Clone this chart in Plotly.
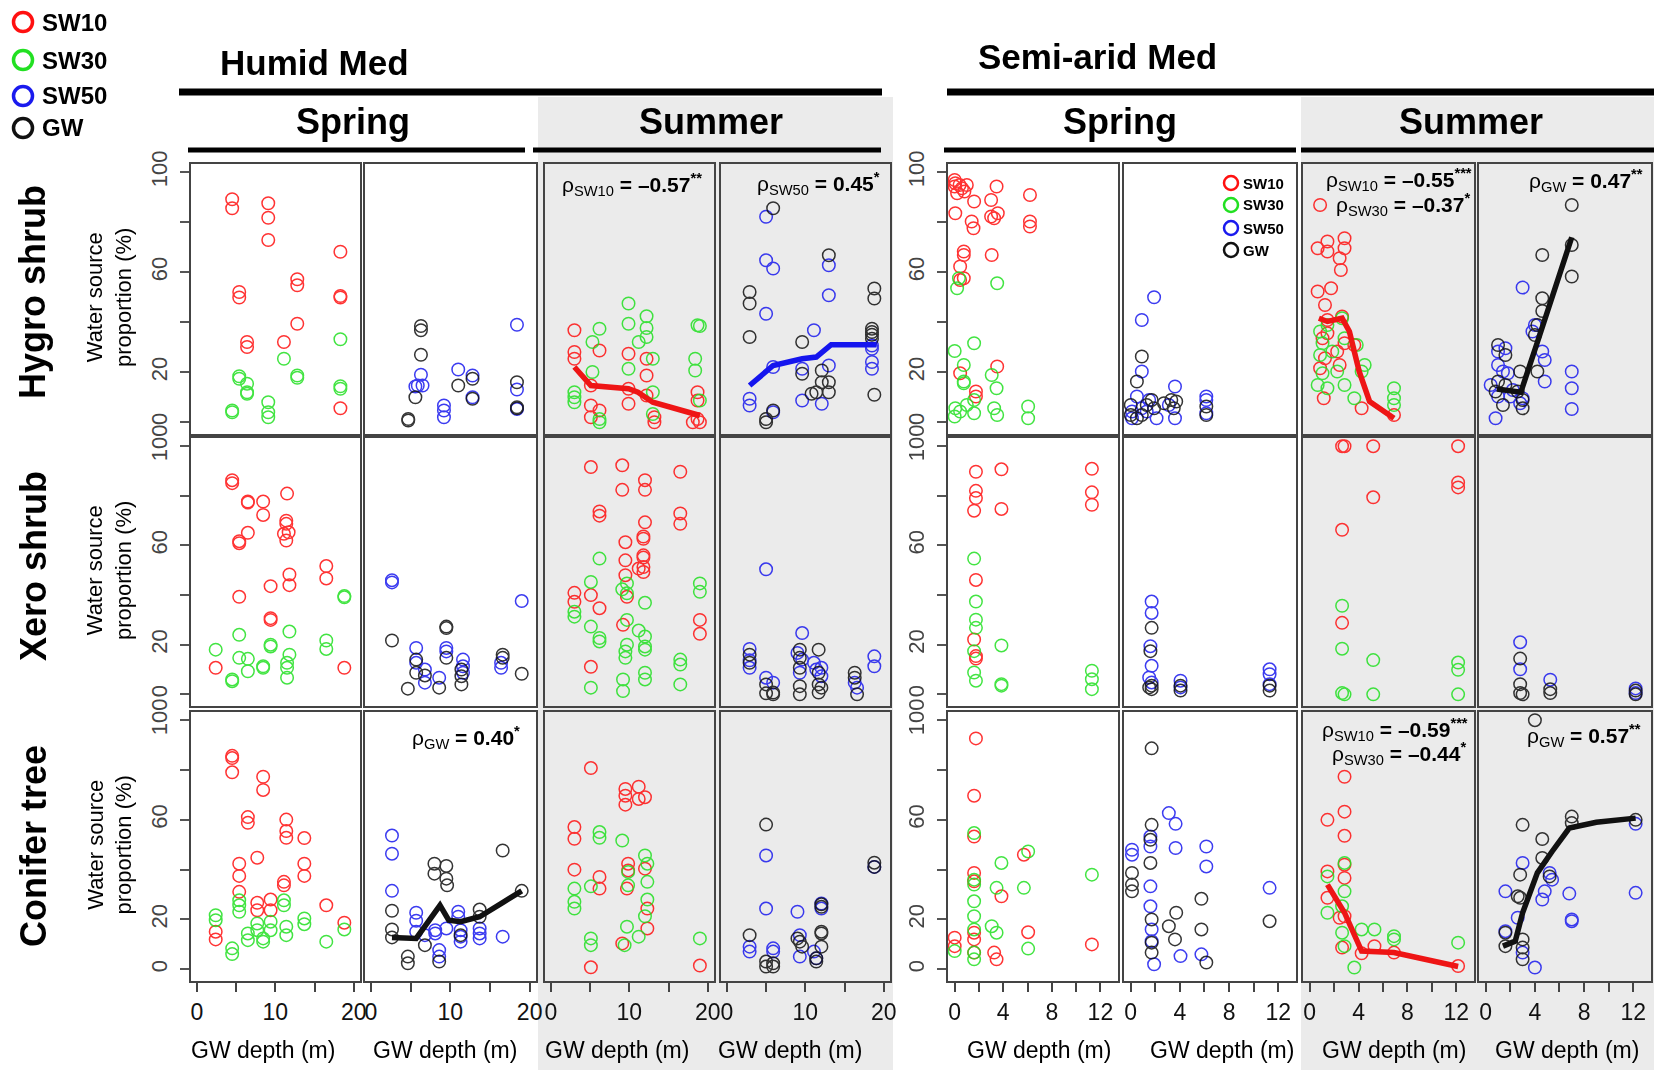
import plotly.graph_objects as go

W, H = 1654, 1070
FONT = "Liberation Sans, Arial, Helvetica, sans-serif"

# ---------------- data (GW depth m, water source proportion %) ----------------
# Row 1: Hygro shrub
H1_hyg_sw10 = [(4.5,89.2),(4.5,85.6),(9.1,87.6),(9.1,81.8),(9.1,72.9),(5.4,52.1),(5.4,49.9),(6.4,32.1),(6.4,30.1),(11.1,32.1),(12.8,57.2),(12.8,54.8),(12.8,39.4),(18.3,68.2),(18.3,50.5),(18.3,49.9),(18.3,5.6)]
H1_hyg_sw30 = [(5.4,18.4),(5.4,17.4),(6.4,15.4),(6.4,12.0),(6.4,11.4),(4.5,4.7),(4.5,4.0),(9.1,8.0),(9.1,4.0),(9.1,2.0),(11.1,25.4),(12.8,18.7),(12.8,17.8),(18.3,33.2),(18.3,14.4),(18.3,13.4)]
H2_hyg_sw50 = [(6.3,19.0),(5.9,14.7),(5.6,14.3),(6.5,14.7),(9.2,6.7),(9.2,4.7),(9.2,2.0),(11.0,21.1),(12.8,18.7),(12.8,10.0),(18.4,39.0),(18.4,13.1),(18.4,5.3)]
H2_hyg_gw = [(6.3,38.5),(6.3,36.8),(6.3,27.0),(5.6,10.0),(4.7,1.3),(4.7,0.7),(11.0,14.7),(12.8,17.4),(12.8,9.4),(18.4,16.0),(18.4,5.6),(18.4,6.0)]
H3_hyg_sw10 = [(3.0,36.8),(3.0,28.1),(3.0,25.4),(6.2,28.7),(5.1,14.7),(5.1,6.7),(5.1,2.0),(6.2,4.7),(9.9,27.4),(9.9,13.4),(9.9,7.4),(12.2,25.4),(12.2,18.7),(12.2,10.7),(13.2,2.0),(13.2,0.0),(18.7,12.0),(18.7,8.7),(18.7,1.3),(19.0,0.0),(18.1,0.0)]
H3_hyg_sw30 = [(6.2,37.4),(5.3,32.1),(3.0,12.0),(3.0,10.0),(3.0,8.0),(5.3,20.1),(6.2,1.3),(6.2,0.0),(9.9,47.5),(9.9,39.4),(9.9,21.4),(11.2,32.1),(12.2,42.4),(12.2,37.7),(12.2,34.1),(13.0,25.4),(13.0,12.0),(13.0,3.3),(18.7,38.8),(19.0,38.5),(18.4,25.4),(18.4,20.7),(19.0,8.7)]
H3_hyg_fit_x = [3.0, 5.1, 9.9, 11.1, 13.0, 19.0]
H3_hyg_fit_y = [22.1, 14.7, 13.4, 12.0, 8.0, 2.7]
H4_hyg_sw50 = [(5.0,82.2),(5.0,64.8),(5.9,61.5),(13.0,62.8),(13.0,50.8),(5.0,43.4),(11.1,36.8),(5.9,22.1),(9.6,21.4),(9.6,8.7),(2.9,9.4),(2.9,6.7),(5.9,4.0),(13.0,22.7),(12.1,7.4),(18.5,30.7),(18.5,29.4),(18.5,24.1),(18.5,21.4)]
H4_hyg_gw = [(5.9,85.6),(2.9,52.1),(2.9,47.5),(2.9,34.1),(9.6,32.1),(13.0,66.8),(18.8,53.5),(18.8,49.5),(18.5,37.4),(18.5,36.1),(18.5,35.0),(18.5,33.4),(18.8,11.0),(5.0,1.3),(5.0,0.0),(5.9,4.7),(9.6,19.4),(12.1,20.7),(12.1,16.0),(13.0,16.0),(13.0,12.0),(11.4,12.0),(10.8,11.4)]
H4_hyg_fit_x = [2.9, 5.9, 9.6, 11.4, 13.3, 19.1]
H4_hyg_fit_y = [14.7, 22.7, 25.4, 26.1, 31.0, 31.0]

S1_hyg_sw10 = [(0.0,96.9),(0.05,95.6),(0.0,94.3),(0.4,94.9),(0.6,93.6),(0.8,92.3),(1.0,94.9),(1.6,88.3),(0.2,91.6),(0.05,83.6),(1.4,80.3),(1.55,77.6),(3.0,88.9),(3.0,82.3),(3.45,94.3),(3.55,83.6),(3.25,81.6),(6.2,90.9),(6.2,80.3),(6.2,78.3),(0.75,68.3),(0.75,66.9),(0.45,62.3),(0.75,57.6),(0.45,56.9),(3.05,66.9),(3.5,22.3),(0.45,19.6),(1.75,12.3),(1.75,10.3)]
S1_hyg_sw30 = [(0.0,28.5),(0.35,57.6),(0.2,53.6),(1.6,31.6),(0.75,22.9),(0.75,16.3),(0.75,15.6),(0.45,4.3),(0.05,5.6),(0.0,2.3),(1.0,6.9),(1.6,3.6),(1.6,8.9),(3.05,18.9),(3.45,13.6),(3.25,5.6),(3.5,2.9),(6.05,6.3),(6.05,1.6),(3.5,55.6)]
S2_hyg_sw50 = [(1.9,50.0),(0.9,40.9),(0.9,20.3),(0.5,10.3),(0.1,4.3),(1.3,4.3),(2.1,1.6),(3.6,14.3),(3.6,1.6),(3.1,6.9),(6.15,10.3),(6.15,8.9),(6.15,3.6),(0.1,1.6),(0.9,5.6),(1.5,8.9)]
S2_hyg_gw = [(0.9,26.3),(0.5,16.3),(0.0,6.9),(0.0,2.9),(0.5,1.6),(0.9,2.9),(1.7,8.9),(1.9,5.6),(2.7,7.6),(3.3,8.9),(3.5,5.6),(3.7,8.3),(6.15,6.3),(6.15,2.9),(1.3,6.9)]
S3_hyg_sw10 = [(0.85,86.9),(0.65,69.6),(1.45,72.3),(1.45,68.3),(2.85,73.6),(2.85,69.6),(2.45,65.6),(2.55,60.9),(0.65,52.3),(1.75,53.6),(1.25,46.9),(1.45,40.9),(2.65,42.3),(1.05,33.6),(1.45,35.6),(2.85,31.6),(1.25,25.6),(2.25,28.3),(0.85,21.6),(2.45,22.9),(3.65,30.9),(1.15,9.6),(4.25,5.6),(6.9,2.9)]
S3_hyg_sw30 = [(0.85,36.3),(1.05,31.6),(1.45,38.9),(2.65,41.6),(1.85,28.3),(0.85,26.9),(1.05,19.6),(0.65,14.9),(1.45,13.6),(2.25,20.3),(2.85,14.9),(3.85,30.9),(4.25,20.3),(3.65,9.6),(6.9,13.6),(6.9,9.6),(6.9,6.9),(4.5,22.9),(2.85,33.6)]
S3_hyg_fit_x = [0.75, 1.45, 2.65, 3.25, 4.05, 4.9, 6.9]
S3_hyg_fit_y = [41.6, 40.3, 41.6, 36.3, 20.3, 8.3, 1.6]
S4_hyg_sw50 = [(3.0,53.9),(1.0,28.3),(1.6,29.6),(4.0,38.9),(3.8,36.3),(4.6,28.3),(4.8,24.9),(1.0,22.9),(1.4,20.3),(1.8,19.6),(4.8,16.3),(0.8,1.6),(1.0,10.3),(2.0,10.3),(3.0,9.6),(7.0,20.3),(7.0,13.6),(7.0,5.3),(0.4,14.9),(2.2,12.9),(2.8,7.6)]
S4_hyg_gw = [(7.0,86.9),(7.0,70.9),(7.0,58.3),(4.6,66.9),(4.6,49.6),(4.6,44.5),(4.2,38.9),(4.0,34.9),(4.2,20.3),(2.8,20.3),(1.0,30.9),(1.6,26.9),(1.0,16.3),(1.6,14.9),(2.6,12.3),(3.0,8.9),(1.4,6.9),(0.8,12.3),(3.0,5.6)]
S4_hyg_fit_x = [0.9, 2.85, 4.2, 5.6, 7.0]
S4_hyg_fit_y = [13.3, 12.0, 32.0, 52.7, 74.0]

# Row 2: Xero shrub
H1_xer_sw10 = [(4.5,86.3),(4.5,85.1),(6.5,77.7),(6.5,77.3),(8.45,77.7),(8.45,72.3),(11.5,80.9),(11.4,70.0),(11.4,68.7),(11.7,65.3),(11.1,64.7),(11.4,62.0),(6.5,65.1),(5.4,61.7),(5.4,60.9),(5.4,39.3),(9.4,43.6),(11.8,48.3),(11.8,44.0),(16.5,51.7),(16.5,46.7),(9.4,30.7),(9.4,30.0),(2.4,10.7),(18.8,10.7)]
H1_xer_sw30 = [(2.4,18.0),(4.5,6.0),(4.5,5.3),(5.4,24.0),(5.4,14.7),(6.5,14.3),(6.5,9.3),(8.45,11.3),(8.45,10.7),(9.4,20.0),(9.4,19.3),(11.5,12.7),(11.5,10.7),(11.5,6.7),(11.8,25.3),(11.8,16.0),(16.5,21.7),(16.5,18.3),(18.8,39.6),(18.8,39.1)]
H2_xer_sw50 = [(2.65,46.0),(2.65,45.1),(5.7,18.7),(9.5,18.7),(9.5,17.3),(5.7,12.7),(6.8,10.0),(6.8,4.7),(8.6,6.7),(11.6,14.0),(11.6,11.3),(16.4,12.7),(16.4,10.7),(19.0,37.6),(11.6,8.7)]
H2_xer_gw = [(2.65,21.7),(4.65,2.3),(5.7,14.0),(5.7,8.7),(6.8,7.6),(8.6,2.7),(9.5,27.3),(9.5,26.7),(9.5,14.7),(11.4,10.0),(11.4,7.3),(11.4,4.0),(16.6,16.0),(16.6,14.7),(19.0,8.3)]
H3_xer_sw10 = [(5.1,91.6),(9.1,92.3),(9.1,82.4),(12.0,86.3),(12.0,82.4),(16.5,89.7),(6.2,73.7),(6.2,72.0),(16.5,72.9),(16.5,68.7),(12.0,69.3),(9.5,61.3),(11.8,63.6),(11.8,62.7),(11.8,56.0),(11.8,55.1),(11.8,51.3),(11.8,49.3),(11.2,50.7),(9.5,54.0),(9.5,48.0),(9.7,39.3),(3.0,40.9),(3.0,37.3),(5.1,40.0),(6.2,34.7),(9.2,28.0),(5.1,11.1),(19.0,30.0),(19.0,24.4)]
H3_xer_sw30 = [(6.2,54.7),(5.1,45.3),(3.0,33.3),(3.0,31.3),(5.1,27.3),(6.2,22.7),(6.2,21.3),(9.1,42.3),(9.7,44.7),(9.7,40.7),(9.7,30.0),(11.2,25.7),(12.0,36.9),(12.0,23.3),(12.0,19.3),(12.0,18.0),(9.7,20.0),(9.5,17.3),(9.5,14.7),(9.2,6.0),(9.2,1.3),(12.0,8.7),(12.0,6.0),(5.1,2.7),(16.5,14.0),(16.5,12.0),(16.5,4.0),(19.0,44.7),(19.0,41.3)]
H4_xer_sw50 = [(5.0,50.4),(2.9,18.3),(2.9,13.7),(2.9,10.7),(5.0,6.7),(5.9,4.7),(9.6,24.7),(9.0,16.7),(9.3,8.7),(9.6,14.0),(11.1,12.7),(11.4,10.0),(12.05,10.7),(12.05,7.3),(16.3,4.7),(16.6,2.7),(18.8,15.3),(18.8,11.3)]
H4_xer_gw = [(2.9,16.0),(2.9,12.7),(5.0,4.0),(5.0,0.4),(5.9,0.7),(5.9,0.0),(9.3,18.0),(9.3,14.7),(9.3,10.7),(9.3,3.3),(9.3,0.0),(11.7,18.0),(11.7,8.7),(11.7,4.0),(11.7,0.7),(12.05,2.7),(16.3,8.7),(16.3,6.7),(16.6,0.0)]

S1_xer_sw10 = [(1.75,89.7),(1.75,82.0),(1.75,79.1),(1.6,74.0),(3.85,90.7),(3.85,74.7),(11.3,90.9),(11.3,81.4),(11.3,76.4),(1.75,46.1),(1.6,22.1),(1.75,15.4),(1.75,14.4)]
S1_xer_sw30 = [(1.6,54.7),(1.75,37.4),(1.75,30.1),(1.75,26.8),(1.6,17.4),(1.6,8.8),(1.75,5.5),(3.85,19.7),(3.85,4.1),(3.85,3.5),(11.3,9.5),(11.3,6.1),(11.3,2.1)]
S2_xer_sw50 = [(1.7,37.4),(1.7,32.8),(1.6,19.4),(1.7,11.5),(1.5,6.8),(1.7,4.8),(4.05,5.5),(4.05,2.8),(11.3,10.1),(11.3,8.1),(11.3,4.1)]
S2_xer_gw = [(1.7,26.8),(1.6,17.4),(1.7,3.5),(1.7,2.1),(1.5,2.8),(4.05,3.5),(4.05,1.5),(11.3,3.5),(11.3,1.5)]
S3_xer_sw10 = [(2.65,100.0),(2.85,100.0),(5.2,100.0),(12.15,100.0),(12.15,85.4),(12.15,83.4),(5.2,79.4),(2.65,66.3),(2.65,28.8)]
S3_xer_sw30 = [(2.65,35.7),(2.65,18.4),(5.2,13.8),(12.15,12.8),(12.15,9.9),(2.65,0.5),(2.85,0.0),(5.2,0.0),(12.15,0.0)]
S4_xer_sw50 = [(2.8,21.0),(2.8,10.1),(5.25,5.9),(12.2,2.4),(12.2,0.5)]
S4_xer_gw = [(2.8,14.4),(2.8,4.1),(2.8,0.5),(3.0,0.0),(5.25,2.1),(5.25,0.5),(12.2,1.5),(12.2,0.0)]

# Row 3: Conifer tree
H1_con_sw10 = [(4.5,85.7),(4.5,84.8),(4.5,79.1),(8.45,77.3),(8.45,72.0),(6.5,61.1),(6.5,58.8),(11.4,60.1),(11.4,55.5),(11.4,52.8),(13.7,52.7),(7.7,44.8),(5.4,42.4),(5.4,37.5),(13.7,42.4),(13.7,37.5),(5.4,31.1),(11.1,35.1),(11.1,33.7),(7.7,26.7),(7.7,23.7),(9.4,28.0),(9.4,23.7),(16.5,25.7),(2.4,15.1),(2.4,12.0),(18.8,18.7)]
H1_con_sw30 = [(2.4,21.7),(2.4,19.7),(5.4,27.7),(5.4,25.7),(5.4,23.1),(4.5,8.4),(4.5,6.1),(6.5,14.4),(6.5,11.7),(7.7,18.4),(7.7,15.7),(8.45,12.4),(8.45,11.1),(9.4,19.1),(9.4,15.7),(11.1,27.7),(11.1,25.7),(11.4,17.1),(11.4,13.7),(13.7,20.4),(13.7,18.1),(16.5,11.1),(18.8,16.0)]
H2_con_sw50 = [(2.65,53.7),(2.65,46.4),(2.65,31.5),(5.7,22.7),(5.7,19.5),(5.7,15.1),(6.8,13.7),(8.1,15.7),(8.1,14.4),(8.6,7.7),(8.6,5.1),(9.5,16.4),(11.0,23.1),(11.0,21.1),(11.3,15.7),(11.3,13.1),(11.3,11.1),(13.7,16.4),(13.7,14.4),(13.7,12.4),(16.6,13.1)]
H2_con_gw = [(2.65,23.5),(2.65,16.0),(2.65,12.8),(4.65,5.1),(4.65,2.4),(6.8,9.7),(8.0,42.4),(8.0,38.4),(9.5,41.5),(9.5,36.4),(9.6,33.7),(8.6,3.1),(11.3,13.7),(13.7,24.0),(13.7,21.1),(16.6,47.7),(19.0,31.5)]
H2_con_fit_x = [2.65, 5.7, 8.7, 9.8, 11.3, 13.7, 16.75, 19.0]
H2_con_fit_y = [12.8, 12.4, 25.7, 19.7, 19.1, 21.1, 27.1, 31.5]
H3_con_sw10 = [(5.1,80.8),(9.5,72.4),(9.5,69.7),(9.5,66.1),(11.2,73.3),(11.2,68.4),(12.0,69.1),(3.0,57.1),(3.0,52.4),(3.0,40.0),(6.2,37.1),(6.2,32.4),(9.85,42.4),(9.85,39.7),(9.7,32.4),(12.0,40.4),(12.3,24.4),(12.3,16.4),(9.1,10.4),(5.1,0.8),(19.0,1.5)]
H3_con_sw30 = [(6.2,55.1),(6.2,52.8),(9.1,51.7),(5.1,33.3),(3.0,32.4),(3.0,27.1),(3.0,24.4),(9.85,39.1),(9.85,33.7),(12.0,45.7),(12.3,42.4),(12.3,35.1),(12.3,28.0),(12.0,21.3),(9.7,17.1),(9.4,9.7),(11.2,13.1),(5.1,12.4),(5.1,9.7),(19.0,12.4)]
H4_con_sw50 = [(5.0,45.7),(5.0,24.4),(9.0,23.1),(2.9,9.1),(2.9,7.1),(5.9,8.4),(5.9,7.1),(9.3,5.1),(9.3,13.7),(11.1,7.1),(11.4,4.4),(12.05,26.4),(12.05,24.4),(18.8,41.1)]
H4_con_gw = [(5.0,58.1),(2.9,13.7),(5.0,3.1),(5.0,1.1),(5.9,2.4),(5.9,1.1),(9.0,12.4),(9.3,11.1),(9.6,9.1),(12.05,15.1),(12.05,14.4),(12.05,9.1),(11.4,4.4),(11.4,3.1),(12.05,26.1),(12.05,25.1),(18.8,42.8),(18.8,41.1)]

S1_con_sw10 = [(1.75,92.7),(1.6,69.7),(1.6,53.3),(1.6,38.7),(1.6,35.3),(3.85,29.3),(5.7,46.0),(6.05,14.9),(11.3,10.0),(0.0,12.7),(0.0,9.3),(1.6,14.7),(1.6,12.0),(1.6,6.7),(3.25,6.7),(3.45,4.0)]
S1_con_sw30 = [(1.6,54.7),(1.6,36.0),(1.6,34.0),(1.6,27.3),(1.6,21.3),(1.6,16.0),(1.6,6.7),(1.6,4.0),(3.85,42.7),(3.45,32.7),(3.05,17.3),(3.45,14.7),(5.7,32.7),(6.05,47.3),(6.05,8.3),(11.3,38.0),(0.0,7.3)]
S2_con_sw50 = [(3.1,62.7),(3.65,58.4),(0.1,48.0),(0.1,46.0),(1.6,53.3),(1.6,49.3),(3.65,48.7),(6.15,49.3),(6.15,41.3),(1.6,33.3),(1.6,25.3),(1.7,16.0),(1.7,11.3),(1.9,2.0),(4.05,5.3),(5.75,6.0),(11.3,32.7)]
S2_con_gw = [(1.7,88.7),(1.7,58.0),(1.6,52.0),(1.6,42.7),(0.1,38.7),(0.1,34.0),(0.1,31.3),(1.7,20.0),(1.7,10.7),(1.7,6.7),(3.1,17.3),(3.7,22.7),(3.6,12.0),(5.75,28.3),(5.75,16.0),(6.15,2.7),(11.3,19.3)]
S3_con_sw10 = [(2.85,77.3),(2.85,63.3),(2.85,53.6),(1.45,60.0),(1.45,39.3),(2.85,42.0),(2.85,36.7),(1.45,28.7),(2.85,21.3),(2.45,20.7),(2.65,8.7),(4.25,6.4),(5.3,9.3),(6.9,6.7),(12.15,1.3)]
S3_con_sw30 = [(1.45,37.3),(2.85,42.7),(2.85,31.3),(1.45,22.7),(2.65,14.7),(2.85,9.3),(4.25,16.0),(5.3,16.0),(6.9,13.3),(6.9,12.0),(3.65,0.7),(12.15,10.7),(2.65,25.3)]
S3_con_fit_x = [1.45, 2.85, 4.25, 6.9, 12.15]
S3_con_fit_y = [34.0, 22.7, 7.3, 6.7, 1.1]
S4_con_sw50 = [(3.0,42.7),(1.6,31.3),(2.6,20.7),(1.6,15.3),(3.0,6.7),(4.0,0.7),(4.6,28.0),(5.2,38.7),(5.4,36.0),(6.8,30.4),(7.0,20.0),(7.0,19.3),(12.2,58.4),(12.2,30.7),(4.8,31.3)]
S4_con_gw = [(4.0,100.0),(3.0,58.0),(4.6,52.3),(4.6,44.7),(5.2,37.3),(7.0,61.3),(7.0,58.7),(12.2,60.0),(2.8,38.0),(2.6,29.3),(2.8,28.7),(1.6,14.7),(1.6,9.3),(3.0,12.0),(3.0,8.7),(3.0,4.0)]
S4_con_fit_x = [1.4, 2.4, 3.0, 4.2, 5.4, 6.8, 9.0, 12.2]
S4_con_fit_y = [9.3, 11.3, 22.7, 38.7, 47.3, 56.7, 59.0, 60.7]

# labels
row_labels = ["Hygro shrub", "Xero shrub", "Conifer tree"]
source_names = ["SW10", "SW30", "SW50", "GW"]
humid_xticks = [0, 5, 10, 15, 20]
humid_xticktext = ["0", "", "10", "", "20"]
semi_xticks = [0, 2, 4, 6, 8, 10, 12]
semi_xticktext = ["0", "", "4", "", "8", "", "12"]
y_ticks = [0, 20, 40, 60, 80, 100]
y_ticktext = ["0", "20", "", "60", "", "100"]

# ---------------- styling ----------------
PT_COLORS = {"SW10": "#ff1010", "SW30": "#22e022", "SW50": "#1a1aee", "GW": "#111111"}
FIT_COLORS = {"SW10": "#ee1515", "SW50": "#1515ee", "GW": "#111111"}

COL_PX = [(191, 360), (365, 536), (545, 714), (721, 890), (948, 1118), (1124, 1296), (1303, 1474), (1479, 1651)]
ROW_PX = [(164, 434), (438, 706), (712, 981)]

panel_points = {
    (0, 0): [("SW10", H1_hyg_sw10), ("SW30", H1_hyg_sw30)],
    (0, 1): [("SW50", H2_hyg_sw50), ("GW", H2_hyg_gw)],
    (0, 2): [("SW10", H3_hyg_sw10), ("SW30", H3_hyg_sw30)],
    (0, 3): [("SW50", H4_hyg_sw50), ("GW", H4_hyg_gw)],
    (0, 4): [("SW10", S1_hyg_sw10), ("SW30", S1_hyg_sw30)],
    (0, 5): [("SW50", S2_hyg_sw50), ("GW", S2_hyg_gw)],
    (0, 6): [("SW10", S3_hyg_sw10), ("SW30", S3_hyg_sw30)],
    (0, 7): [("SW50", S4_hyg_sw50), ("GW", S4_hyg_gw)],
    (1, 0): [("SW10", H1_xer_sw10), ("SW30", H1_xer_sw30)],
    (1, 1): [("SW50", H2_xer_sw50), ("GW", H2_xer_gw)],
    (1, 2): [("SW10", H3_xer_sw10), ("SW30", H3_xer_sw30)],
    (1, 3): [("SW50", H4_xer_sw50), ("GW", H4_xer_gw)],
    (1, 4): [("SW10", S1_xer_sw10), ("SW30", S1_xer_sw30)],
    (1, 5): [("SW50", S2_xer_sw50), ("GW", S2_xer_gw)],
    (1, 6): [("SW10", S3_xer_sw10), ("SW30", S3_xer_sw30)],
    (1, 7): [("SW50", S4_xer_sw50), ("GW", S4_xer_gw)],
    (2, 0): [("SW10", H1_con_sw10), ("SW30", H1_con_sw30)],
    (2, 1): [("SW50", H2_con_sw50), ("GW", H2_con_gw)],
    (2, 2): [("SW10", H3_con_sw10), ("SW30", H3_con_sw30)],
    (2, 3): [("SW50", H4_con_sw50), ("GW", H4_con_gw)],
    (2, 4): [("SW10", S1_con_sw10), ("SW30", S1_con_sw30)],
    (2, 5): [("SW50", S2_con_sw50), ("GW", S2_con_gw)],
    (2, 6): [("SW10", S3_con_sw10), ("SW30", S3_con_sw30)],
    (2, 7): [("SW50", S4_con_sw50), ("GW", S4_con_gw)],
}
panel_fits = {
    (0, 2): ("SW10", H3_hyg_fit_x, H3_hyg_fit_y),
    (0, 3): ("SW50", H4_hyg_fit_x, H4_hyg_fit_y),
    (0, 6): ("SW10", S3_hyg_fit_x, S3_hyg_fit_y),
    (0, 7): ("GW", S4_hyg_fit_x, S4_hyg_fit_y),
    (2, 1): ("GW", H2_con_fit_x, H2_con_fit_y),
    (2, 6): ("SW10", S3_con_fit_x, S3_con_fit_y),
    (2, 7): ("GW", S4_con_fit_x, S4_con_fit_y),
}


def px(x):
    return x / W


def py(y):
    return 1 - y / H


fig = go.Figure()
layout = {}
for r in range(3):
    for c in range(8):
        idx = r * 8 + c + 1
        sfx = "" if idx == 1 else str(idx)
        xa, ya = "x" + sfx, "y" + sfx
        for name, pts in panel_points[(r, c)]:
            col = PT_COLORS[name]
            fig.add_trace(go.Scatter(
                x=[p[0] for p in pts], y=[p[1] for p in pts], xaxis=xa, yaxis=ya,
                mode="markers", opacity=0.85, hoverinfo="skip",
                marker=dict(symbol="circle-open", size=12.5, color=col,
                            line=dict(width=1.5, color=col))))
        if (r, c) in panel_fits:
            name, fx, fy = panel_fits[(r, c)]
            fig.add_trace(go.Scatter(x=fx, y=fy, xaxis=xa, yaxis=ya, mode="lines",
                                     hoverinfo="skip",
                                     line=dict(color=FIT_COLORS[name], width=5.5)))
        humid = c < 4
        x0, x1 = COL_PX[c]
        y0, y1 = ROW_PX[r]
        layout["xaxis" + sfx] = dict(
            domain=[px(x0), px(x1)], anchor=ya,
            range=[-0.75, 20.8] if humid else [-0.55, 13.45],
            tickvals=humid_xticks if humid else semi_xticks,
            ticktext=humid_xticktext if humid else semi_xticktext,
            showticklabels=(r == 2), ticks="outside" if r == 2 else "",
            ticklen=9, tickwidth=1.5, tickcolor="#444",
            tickfont=dict(family=FONT, size=23, color="#111"),
            showline=True, linecolor="#444", linewidth=2, mirror=True,
            showgrid=False, zeroline=False, fixedrange=True)
        left = c in (0, 4)
        layout["yaxis" + sfx] = dict(
            domain=[py(y1), py(y0)], anchor=xa, range=[-4.7, 103.3],
            tickvals=y_ticks, ticktext=y_ticktext,
            showticklabels=left, ticks="outside" if left else "",
            ticklen=9, tickwidth=1.5, tickcolor="#555", tickangle=-90,
            ticklabelstandoff=4,
            tickfont=dict(family=FONT, size=22, color="#444"),
            showline=True, linecolor="#444", linewidth=2, mirror=True,
            showgrid=False, zeroline=False, fixedrange=True)

shapes = []
# summer background
for gx0, gx1 in [(538, 893), (1301, 1654)]:
    shapes.append(dict(type="rect", xref="paper", yref="paper", x0=px(gx0), x1=px(gx1),
                       y0=py(1070), y1=py(97), fillcolor="#ebebeb", line=dict(width=0),
                       layer="below"))
# header rules
for lx0, lx1, ly, lw in [(179, 882, 92, 7), (947, 1654, 92, 7),
                         (188, 525, 150, 5), (533, 881, 150, 5),
                         (944, 1296, 150, 5), (1301, 1654, 150, 5)]:
    shapes.append(dict(type="line", xref="paper", yref="paper", x0=px(lx0), x1=px(lx1),
                       y0=py(ly), y1=py(ly), line=dict(color="#000", width=lw)))

annotations = []


def add_text(text, x, y, size, bold=False, xanchor="center", angle=0, color="#000"):
    annotations.append(dict(text="<b>%s</b>" % text if bold else text,
                            x=px(x), y=py(y), xref="paper", yref="paper",
                            xanchor=xanchor, yanchor="middle", showarrow=False,
                            textangle=angle,
                            font=dict(family=FONT, size=size, color=color)))


# legends
for i, (name, ly) in enumerate(zip(source_names, [22, 60, 96, 128])):
    shapes.append(dict(type="circle", xref="paper", yref="paper",
                       x0=px(23 - 9.5), x1=px(23 + 9.5), y0=py(ly + 9.5), y1=py(ly - 9.5),
                       line=dict(color=PT_COLORS[name], width=3.5)))
    add_text(name, 40, ly, 24, bold=True, xanchor="left")
for i, (name, ly) in enumerate(zip(source_names, [183, 205, 228, 250])):
    shapes.append(dict(type="circle", xref="paper", yref="paper",
                       x0=px(1231 - 7), x1=px(1231 + 7), y0=py(ly + 7), y1=py(ly - 7),
                       line=dict(color=PT_COLORS[name], width=2.5)))
    add_text(name, 1241, ly, 15, bold=True, xanchor="left")

# headers
add_text("Humid Med", 314, 62, 35, bold=True)
add_text("Semi-arid Med", 1097, 57, 35, bold=True)
add_text("Spring", 353, 121, 36, bold=True)
add_text("Summer", 711, 121, 36, bold=True)
add_text("Spring", 1120, 121, 36, bold=True)
add_text("Summer", 1471, 121, 36, bold=True)

# row labels and y titles
for r, lab in enumerate(row_labels):
    yc = [292, 566, 846][r]
    add_text(lab, 33, yc, 36, bold=True, angle=-90)
    add_text("Water source<br>proportion (%)", 109, (ROW_PX[r][0] + ROW_PX[r][1]) / 2 - 2, 22, angle=-90)

# x titles
for xc in [263, 445, 617, 790, 1039, 1222, 1394, 1567]:
    add_text("GW depth (m)", xc, 1050, 23)

# correlation annotations


def rho(sub, val, stars):
    return "ρ<sub>%s</sub><b> = %s<sup>%s</sup></b>" % (sub, val, stars)


add_text(rho("SW10", "–0.57", "**"), 632, 185, 21)
add_text(rho("SW50", "0.45", "*"), 882, 183, 21, xanchor="right")
add_text(rho("GW", "0.40", "*"), 522, 737, 21, xanchor="right")
add_text(rho("SW10", "–0.55", "***"), 1474, 179, 21, xanchor="right")
add_text(rho("SW30", "–0.37", "*"), 1472, 204, 21, xanchor="right")
add_text(rho("GW", "0.47", "**"), 1645, 180, 21, xanchor="right")
add_text(rho("SW10", "–0.59", "***"), 1470, 729, 21, xanchor="right")
add_text(rho("SW30", "–0.44", "*"), 1468, 753, 21, xanchor="right")
add_text(rho("GW", "0.57", "**"), 1643, 735, 21, xanchor="right")

fig.update_layout(**layout)
fig.update_layout(
    width=W, height=H, autosize=False,
    margin=dict(l=0, r=0, t=0, b=0, pad=0, autoexpand=False),
    paper_bgcolor="white", plot_bgcolor="rgba(0,0,0,0)",
    showlegend=False, shapes=shapes, annotations=annotations,
    font=dict(family=FONT, color="#000"))

fig.write_html("out.html")
